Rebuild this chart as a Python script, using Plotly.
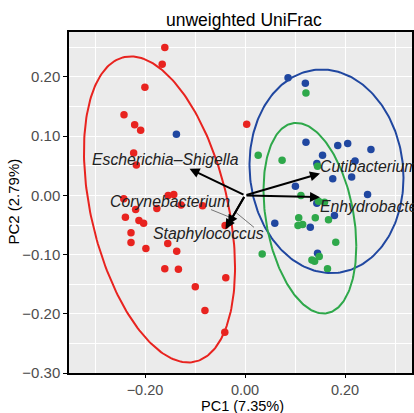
import numpy as np
import plotly.graph_objects as go

# ---- data ----
RED_X = [-0.1604, -0.1656, -0.2002, -0.2420, -0.2207, -0.2087, -0.2227, -0.2173, -0.2425, -0.2187,
         -0.1763, -0.1537, -0.1425, -0.1278, -0.0849, -0.2392, -0.2121, -0.2028, -0.2280, -0.2280,
         -0.1982, -0.1545, -0.1366, -0.1604, -0.1332, -0.0398, -0.0384, -0.0994, -0.0801, -0.0404, 0.0034]
RED_Y = [0.2497, 0.2215, 0.1825, 0.1361, 0.1192, 0.1102, 0.0717, 0.0514, -0.0056, -0.0237,
         -0.0220, 0.0000, 0.0017, -0.0164, -0.0175, -0.0368, -0.0424, -0.0469, -0.0632, -0.0797,
         -0.0898, -0.0814, -0.0944, -0.1237, -0.1249, -0.0508, -0.1390, -0.1542, -0.1944, -0.2310, 0.1203]

BLUE_X = [0.0861, 0.1207, -0.1372, 0.1219, 0.1855, 0.2054, 0.1551, 0.2201, 0.2519, 0.1437,
          0.1755, 0.2133, 0.1008, 0.2451, 0.1437, 0.1789, 0.0596, 0.1306, 0.1451]
BLUE_Y = [0.1988, 0.1893, 0.1034, 0.0898, 0.0842, 0.0876, 0.0678, 0.0581, 0.0775, 0.0537,
          0.0283, 0.0310, 0.0153, 0.0017, -0.0131, -0.0339, -0.0469, -0.0537, -0.0978]

GREEN_X = [0.1219, 0.0264, 0.0742, 0.1451, 0.1119, 0.1471, 0.1590, 0.1074, 0.1406, 0.1670,
           0.1060, 0.1153, 0.1815, 0.0344, 0.1338, 0.1485, 0.1392, 0.1650]
GREEN_Y = [0.1729, 0.0678, 0.0593, 0.0492, 0.0000, -0.0097, -0.0114, -0.0378, -0.0378, -0.0412,
           -0.0508, -0.0492, -0.0792, -0.0988, -0.1090, -0.1034, -0.1114, -0.1237]

# ellipse parameters: centre x, centre y, sd x, sd y, covariance
RED_ELLIPSE = [-0.171, -0.0237, 0.1511, 0.2585, -0.01485]
BLUE_ELLIPSE = [0.163, 0.0407, 0.154, 0.172, -0.00168]
GREEN_ELLIPSE = [0.1298, -0.0385, 0.0928, 0.161, -0.00438]

# biplot arrows (taxa loadings)
TAXA = ["Escherichia–Shigella", "Corynebacterium", "Staphylococcus", "Cutibacterium", "Enhydrobacter"]
TAXA_X = [-0.111, -0.034, -0.039, 0.150, 0.150]
TAXA_Y = [0.045, -0.050, -0.057, 0.037, -0.003]
LABEL_X = [-0.159, -0.151, -0.0722, 0.145, 0.145]
LABEL_Y = [0.0605, -0.0097, -0.0649, 0.049, -0.018]
LABEL_ANCHOR = ["center", "center", "center", "left", "left"]
LEADERS = [[(-0.068, -0.024), (-0.030, -0.037)], [(-0.018, -0.029), (0.018, -0.054)]]

X_TICKS = [-0.2, 0.0, 0.2]
Y_TICKS = [-0.3, -0.2, -0.1, 0.0, 0.1, 0.2]

RED = "#E8231F"
BLUE = "#2047A0"
GREEN = "#2EA84A"
FONT = "Liberation Sans, Arial, Helvetica, sans-serif"


def ellipse(p, n=240):
    cx, cy, sx, sy, cxy = p
    L = np.linalg.cholesky(np.array([[sx * sx, cxy], [cxy, sy * sy]]))
    t = np.linspace(0, 2 * np.pi, n)
    pts = L @ np.vstack([np.cos(t), np.sin(t)])
    return cx + pts[0], cy + pts[1]


fig = go.Figure()
for xs, ys, col in [(RED_X, RED_Y, RED), (BLUE_X, BLUE_Y, BLUE), (GREEN_X, GREEN_Y, GREEN)]:
    fig.add_trace(go.Scatter(x=xs, y=ys, mode="markers",
                             marker=dict(size=7.5, color=col, line=dict(width=0)),
                             showlegend=False, hoverinfo="skip"))
for p, col in [(RED_ELLIPSE, RED), (BLUE_ELLIPSE, BLUE), (GREEN_ELLIPSE, GREEN)]:
    ex, ey = ellipse(p)
    fig.add_trace(go.Scatter(x=ex, y=ey, mode="lines", line=dict(color=col, width=2),
                             showlegend=False, hoverinfo="skip"))
for seg in LEADERS:
    fig.add_trace(go.Scatter(x=[seg[0][0], seg[1][0]], y=[seg[0][1], seg[1][1]], mode="lines",
                             line=dict(color="#555555", width=0.8), showlegend=False, hoverinfo="skip"))

ann = []
for tx, ty in zip(TAXA_X, TAXA_Y):
    ann.append(dict(x=tx, y=ty, ax=0, ay=0, xref="x", yref="y", axref="x", ayref="y",
                    showarrow=True, arrowhead=2, arrowsize=1, arrowwidth=2, arrowcolor="black", text=""))
for name, lx, ly, anc in zip(TAXA, LABEL_X, LABEL_Y, LABEL_ANCHOR):
    ann.append(dict(x=lx, y=ly, xref="x", yref="y", text="<i>" + name + "</i>", showarrow=False,
                    xanchor=anc, yanchor="middle", font=dict(size=15.8, color="#222222", family=FONT)))

ann.append(dict(x=0.510, y=1.035, xref="paper", yref="paper", text="unweighted UniFrac", showarrow=False,
                xanchor="center", yanchor="middle", font=dict(size=17.5, color="black", family=FONT)))
ann.append(dict(x=0.507, y=-0.096, xref="paper", yref="paper", text="PC1 (7.35%)", showarrow=False,
                xanchor="center", yanchor="middle", height=14, borderpad=0,
                font=dict(size=14.5, color="black", family=FONT)))
ann.append(dict(x=-0.162, y=0.504, xref="paper", yref="paper", text="PC2 (2.79%)", showarrow=False,
                textangle=-90, xanchor="center", yanchor="middle", font=dict(size=15, color="black", family=FONT)))

fig.update_layout(
    width=414, height=413,
    margin=dict(l=69, r=0, t=32, b=40),
    paper_bgcolor="white", plot_bgcolor="#EBEBEB",
    annotations=ann,
    font=dict(family=FONT),
)
fig.update_xaxes(range=[-0.352, 0.334], tickvals=X_TICKS, tickformat=".2f",
                 showgrid=True, gridcolor="white", gridwidth=1.3,
                 minor=dict(dtick=0.1, tick0=0, showgrid=True, gridcolor="white", gridwidth=0.7),
                 zeroline=False, showline=True, linecolor="black", linewidth=1.5, mirror=True,
                 ticks="outside", ticklen=3, tickcolor="black", tickwidth=1.2,
                 tickfont=dict(size=14.5, color="#4D4D4D", family=FONT))
fig.update_yaxes(range=[-0.30, 0.276], tickvals=Y_TICKS, tickformat=".2f",
                 showgrid=True, gridcolor="white", gridwidth=1.3,
                 minor=dict(dtick=0.05, tick0=0, showgrid=True, gridcolor="white", gridwidth=0.7),
                 zeroline=False, showline=True, linecolor="black", linewidth=1.5, mirror=True,
                 ticks="outside", ticklen=4, tickcolor="black", tickwidth=1.2,
                 tickfont=dict(size=15, color="#4D4D4D", family=FONT))

fig.write_html("out.html")
